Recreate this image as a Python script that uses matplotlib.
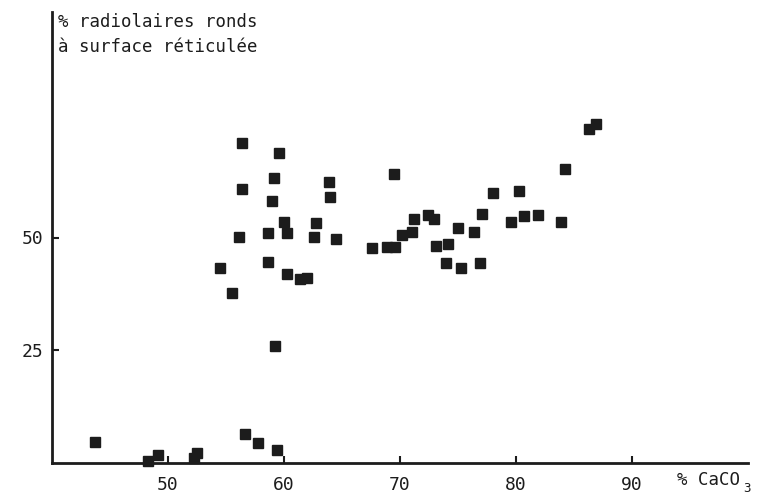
import matplotlib
matplotlib.use("Agg")
import matplotlib.pyplot as plt

# % CaCO3 (x) versus % round radiolarians with reticulate surface (y)
caco3 = [43.7, 48.3, 49.1, 52.2, 52.5, 56.6, 57.8, 59.4,
         56.4, 59.6, 59.1, 56.4, 63.9, 64.0, 59.0, 60.0, 62.8,
         56.1, 58.6, 60.3, 62.6, 64.5, 67.6, 54.5, 58.6, 60.3,
         61.4, 62.0, 55.5, 59.2,
         69.5, 84.2, 78.0, 80.3, 77.1, 80.7, 81.9, 79.6, 83.9,
         71.2, 72.4, 72.9, 75.0, 76.4, 71.0, 70.2, 68.9, 69.6,
         73.1, 74.1, 74.0, 75.3, 76.9, 86.3, 86.9]
radiolaires = [4.7, 0.4, 1.8, 1.1, 2.2, 6.4, 4.4, 2.9,
               71.0, 68.7, 63.2, 60.8, 62.3, 59.0, 58.1, 53.4, 53.2,
               50.1, 51.0, 51.0, 50.1, 49.7, 47.7, 43.2, 44.6, 41.9,
               40.8, 41.0, 37.7, 25.9,
               64.1, 65.2, 59.9, 60.3, 55.2, 54.8, 55.0, 53.4, 53.4,
               54.1, 55.0, 54.1, 52.1, 51.2, 51.2, 50.6, 47.9, 47.9,
               48.1, 48.6, 44.3, 43.2, 44.3, 74.1, 75.2]

x_ticks = [50, 60, 70, 80, 90]
y_ticks = [25, 50]

W, H = 757, 493
MONO = "DejaVu Sans Mono"
INK = "#1c1c1c"

fig = plt.figure(figsize=(W / 100, H / 100), dpi=100)
fig.patch.set_facecolor("white")

left, right, top, bottom = 52, 748, 12, 463
ax = fig.add_axes([left / W, 1 - bottom / H, (right - left) / W, (bottom - top) / H])
ax.set_facecolor("white")

ax.plot(caco3, radiolaires, linestyle="none", marker="s", markersize=6.6,
        color=INK, markeredgecolor=INK, clip_on=False)

ax.set_xlim(40, 100)
ax.set_ylim(0, 100)

for side in ("top", "right"):
    ax.spines[side].set_visible(False)
for side in ("left", "bottom"):
    ax.spines[side].set_linewidth(2.0)
    ax.spines[side].set_color(INK)

ax.set_xticks(x_ticks)
ax.set_yticks(y_ticks)
ax.tick_params(axis="both", direction="in", length=5, width=1.5, color=INK,
               labelcolor=INK, labelsize=13)
ax.tick_params(axis="x", pad=9)
ax.tick_params(axis="y", pad=6)
for lab in ax.get_xticklabels() + ax.get_yticklabels():
    lab.set_fontfamily(MONO)


def px_text(x, y, s, **kw):
    fig.text(x / W, 1 - y / H, s, family=MONO, color=INK, **kw)


# axis titles
px_text(58, 27, "% radiolaires ronds", fontsize=12.5, va="baseline", ha="left")
px_text(58, 52, "à surface réticulée", fontsize=12.5, va="baseline", ha="left")
px_text(677, 480, "% CaCO", fontsize=12.5, va="center", ha="left")
px_text(743, 488, "3", fontsize=9, va="center", ha="left")

fig.savefig("out.png", dpi=100, facecolor="white")
